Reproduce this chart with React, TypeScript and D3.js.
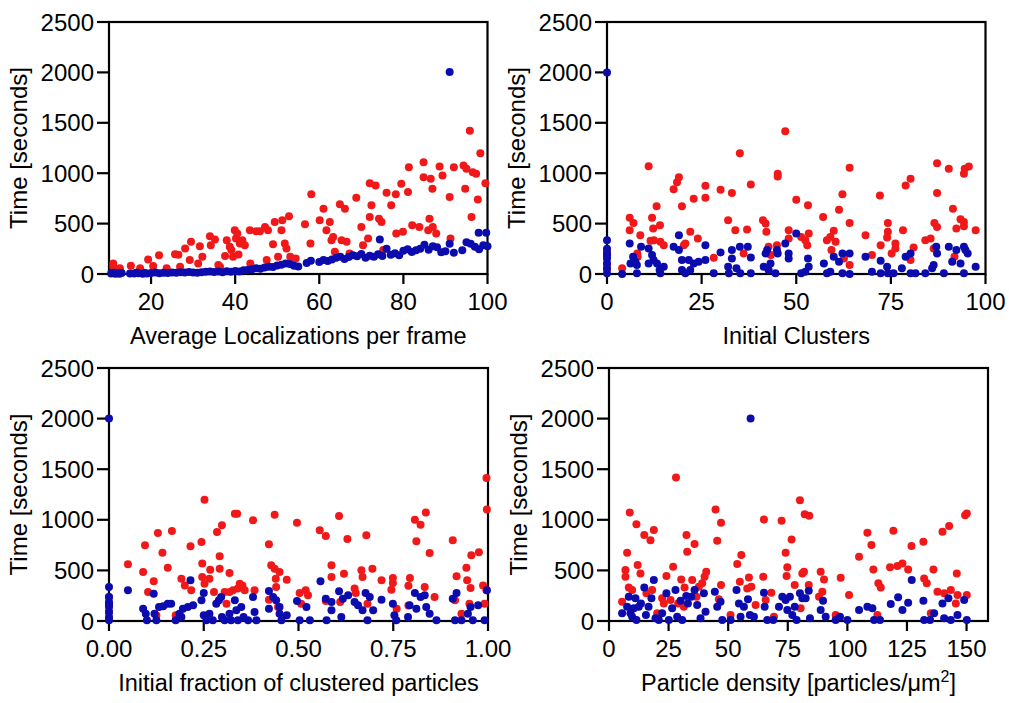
import React from "react";
import * as d3 from "d3";

type Pt = [number, number];

const Y_TICKS = [0, 500, 1000, 1500, 2000, 2500];
const LOC_TICKS = [20, 40, 60, 80, 100];
const CLU_TICKS = [0, 25, 50, 75, 100];
const FRAC_TICKS = [0, 0.25, 0.5, 0.75, 1];
const DENS_TICKS = [0, 25, 50, 75, 100, 125, 150];

const Y_TITLE = "Time [seconds]";
const LOC_TITLE = "Average Localizations per frame";
const CLU_TITLE = "Initial Clusters";
const FRAC_TITLE = "Initial fraction of clustered particles";

// Panel 1: Average localizations per frame
const locRed: Pt[] = [[11,105],[11,70],[12.6,56],[15.2,82],[17.4,56],[19.3,145],[20.5,80],[21.9,185],[23.7,56],[25.7,197],[26.5,190],[26.9,72],[28.1,253],[29.2,138],[29.5,320],[31.2,105],[31.6,276],[32.2,171],[34,375],[34.2,286],[35.2,342],[36,89],[36.4,72],[37.6,178],[38,336],[38.7,270],[39.1,237],[39.9,434],[40.2,352],[40.5,401],[41.1,303],[41.7,336],[42.3,286],[39.5,171],[40.8,194],[43.5,434],[43.6,105],[45,424],[45.9,424],[47.1,467],[47.5,138],[47.8,434],[49,296],[49.4,516],[50.2,171],[51,434],[51.2,533],[51.8,303],[52.2,253],[52.8,572],[53.1,171],[54.4,155],[56.6,493],[57.9,303],[58.1,790],[60.1,533],[61,648],[61.7,434],[62.5,516],[62.9,336],[63.3,368],[63.7,220],[64.9,691],[65.3,336],[66.1,648],[66.5,319],[67.2,204],[68.8,757],[70,467],[70.4,286],[71.6,352],[72,566],[72,901],[72.4,681],[73.4,878],[74.2,549],[74.8,516],[75.2,237],[76,806],[77.1,681],[78.2,790],[78.3,401],[79.5,895],[79.9,418],[81.1,813],[81.3,1059],[82.1,484],[83.8,467],[84.8,1109],[84.8,961],[85.9,434],[86.2,549],[86.5,944],[86.9,846],[87,467],[87.8,401],[88.6,1066],[89.3,977],[91,763],[91.2,352],[92,1059],[94.3,1076],[94.7,846],[95,1043],[95.8,1421],[96.2,566],[96.5,1010],[97.3,994],[97.7,740],[98.3,1198],[99.5,901]];
const locBlue: Pt[] = [[10.5,5],[11,12],[11.5,3],[12,8],[12.5,2],[13,10],[15,6],[16,4],[16.5,12],[17,8],[18,3],[18.5,10],[19,6],[20,9],[21,14],[22,7],[23,12],[24,10],[25,15],[26,12],[27,18],[28,14],[29,20],[30,16],[31,12],[32,18],[33,22],[34,26],[35,20],[36,24],[37,18],[38,28],[39,22],[40,30],[41,26],[42,36],[43,40],[44,46],[45,58],[46,52],[47,64],[48,72],[49,70],[50,85],[51,92],[52,105],[53,98],[54,82],[55,75],[57,110],[58,132],[60,118],[61,140],[62,128],[63,145],[64,160],[65,172],[66,150],[67,168],[68,185],[69,175],[70,198],[71,160],[72,182],[73,170],[74,195],[74.4,342],[75,178],[76,250],[77,190],[78,205],[79,185],[80,230],[81,245],[82,218],[83,235],[84,250],[85,290],[86,240],[87,275],[88,265],[89,215],[90,225],[91,300],[91,2003],[92,212],[94,235],[95,315],[96,300],[97,270],[97.9,408],[98,245],[99,285],[99.7,408],[100,275]];

// Panel 2: Initial clusters
const cluRed: Pt[] = [[0,237],[0,200],[0,100],[0,50],[4,56],[6,559],[6,434],[7,507],[8,204],[8.1,171],[8.8,385],[11,1069],[11.9,559],[12.2,451],[11.5,329],[12.4,336],[13.1,671],[14,484],[14.1,319],[15,286],[17.6,842],[18.5,911],[19,961],[19.8,671],[20.7,303],[20.3,286],[22,418],[22.9,747],[24,352],[26,875],[26,757],[28.2,161],[30,836],[32,533],[33,803],[33.9,434],[35.1,1198],[36.1,204],[37,441],[38,888],[41.2,533],[41.9,500],[42.1,418],[42.7,270],[43.3,188],[45.1,994],[45.1,967],[44.9,286],[47.1,1415],[48,434],[48,352],[50,737],[51.3,368],[52.4,336],[53.1,681],[53.3,401],[52.9,286],[57.1,566],[58.1,336],[59,368],[59.3,237],[59.9,428],[60.4,319],[61.3,638],[62.2,790],[62.6,155],[64.1,507],[64.1,89],[64.1,1053],[68.3,385],[70,188],[72.1,780],[72.3,286],[74.2,507],[74.2,418],[74,362],[75.2,204],[76.2,303],[76.2,253],[78.2,434],[78.9,878],[80.2,944],[80.2,138],[81,263],[84.1,336],[85.5,352],[86.3,253],[86.5,507],[87.2,1099],[87.2,803],[87.2,467],[90.3,1043],[91.4,648],[91.8,171],[92.3,451],[93.4,543],[94.3,516],[94.3,994],[94.5,1043],[95.6,1066],[97.4,434],[94.3,474]];
const cluBlue: Pt[] = [[0,2000],[0,336],[0,250],[0,204],[0,180],[0,155],[0,105],[0,56],[0,7],[4,0],[6,303],[6.2,105],[6.9,171],[7.5,122],[7.9,89],[7.9,7],[9,270],[11,253],[11,105],[11.9,188],[12.3,138],[13.2,105],[13.9,39],[15,72],[14.1,7],[17.6,270],[19,385],[19,237],[19.8,138],[19.8,39],[20.7,7],[21.6,138],[22,39],[22.9,105],[24.2,122],[26,286],[26,138],[28.2,7],[30,214],[32,72],[32.2,7],[33,237],[33,155],[34.2,56],[35.1,270],[35.2,7],[37.2,270],[38,164],[38,7],[41.4,72],[41.9,204],[42.3,237],[42.7,39],[43.2,105],[44.5,7],[45.1,204],[44.9,237],[47.1,303],[48,204],[48,155],[50,401],[51.3,7],[52.4,23],[53.1,155],[53.3,72],[57.3,105],[58.1,7],[59,23],[59.9,171],[61.3,122],[62.2,204],[62.2,7],[64.1,204],[64.1,0],[68.3,171],[70,23],[72.3,132],[72.3,7],[74,72],[74.2,7],[75.7,7],[77.9,56],[78.9,171],[80.2,204],[80.2,7],[81.5,7],[84.1,7],[85.9,56],[86.3,89],[87,270],[87.2,204],[89,7],[90.3,270],[91.2,122],[92.3,237],[93.4,105],[94.3,270],[94.3,7],[95.3,204],[97.4,72],[94.7,237]];

// Panel 3: Initial fraction of clustered particles
const fracRed: Pt[] = [[0,237],[0,171],[0,89],[0.05,560],[0.09,484],[0.095,748],[0.103,287],[0.118,392],[0.125,56],[0.129,870],[0.141,675],[0.155,527],[0.166,890],[0.176,56],[0.191,418],[0.2,352],[0.215,738],[0.217,303],[0.244,781],[0.246,567],[0.246,435],[0.252,1199],[0.252,369],[0.265,418],[0.267,507],[0.277,287],[0.285,880],[0.292,639],[0.292,517],[0.298,945],[0.305,287],[0.31,171],[0.318,474],[0.318,287],[0.327,303],[0.332,1061],[0.338,1061],[0.34,320],[0.345,369],[0.352,352],[0.358,303],[0.38,995],[0.384,303],[0.422,758],[0.422,211],[0.428,550],[0.437,1051],[0.437,517],[0.441,336],[0.44,418],[0.45,484],[0.446,138],[0.469,408],[0.496,972],[0.503,277],[0.507,171],[0.519,303],[0.525,254],[0.556,896],[0.572,840],[0.572,198],[0.587,550],[0.587,435],[0.607,1038],[0.61,188],[0.62,468],[0.629,810],[0.648,320],[0.651,277],[0.666,501],[0.669,435],[0.679,847],[0.682,171],[0.695,517],[0.719,402],[0.749,425],[0.749,376],[0.745,310],[0.759,122],[0.79,152],[0.794,425],[0.79,349],[0.807,1001],[0.811,788],[0.822,952],[0.836,1071],[0.833,336],[0.846,672],[0.859,237],[0.907,797],[0.917,441],[0.913,204],[0.93,72],[0.943,527],[0.945,402],[0.951,171],[0.954,326],[0.956,649],[0.976,679],[0.987,352],[0.991,171],[0.996,1414],[0.997,1101],[0.996,303]];
const fracBlue: Pt[] = [[0,2000],[0,336],[0,237],[0,188],[0,160],[0,138],[0,89],[0,39],[0,7],[0.05,303],[0.09,122],[0.097,72],[0.1,7],[0.118,270],[0.12,72],[0.125,7],[0.132,138],[0.143,145],[0.155,171],[0.164,171],[0.176,7],[0.186,72],[0.191,39],[0.195,122],[0.208,138],[0.215,402],[0.222,155],[0.244,204],[0.25,277],[0.25,56],[0.257,7],[0.265,72],[0.274,7],[0.283,171],[0.29,204],[0.296,237],[0.298,39],[0.305,7],[0.318,72],[0.322,7],[0.332,204],[0.336,105],[0.34,7],[0.349,138],[0.355,39],[0.367,7],[0.38,237],[0.384,89],[0.389,7],[0.422,297],[0.422,122],[0.433,237],[0.441,204],[0.45,138],[0.45,72],[0.455,7],[0.469,56],[0.496,198],[0.503,7],[0.521,138],[0.53,7],[0.558,392],[0.572,221],[0.587,188],[0.587,105],[0.574,7],[0.607,293],[0.613,39],[0.617,221],[0.631,254],[0.648,188],[0.657,155],[0.669,105],[0.677,277],[0.682,7],[0.688,237],[0.697,105],[0.719,211],[0.749,171],[0.753,56],[0.758,7],[0.789,39],[0.793,155],[0.807,277],[0.811,122],[0.822,237],[0.833,254],[0.837,138],[0.846,72],[0.864,7],[0.907,221],[0.917,277],[0.913,7],[0.93,7],[0.947,72],[0.954,138],[0.96,7],[0.974,155],[0.991,7],[0.997,303]];

// Panel 4: Particle density
const densRed: Pt[] = [[5.5,191],[6.9,503],[6.9,438],[7.6,675],[8.7,1073],[8.3,332],[9.7,306],[11.5,957],[12,553],[13.2,470],[14.8,849],[15.7,273],[17.4,799],[18.1,306],[18.8,898],[20.2,76],[22.3,224],[23,174],[24.1,444],[25.8,207],[26.9,536],[28.1,1418],[29,174],[30.3,411],[31.4,141],[31.7,332],[32.5,849],[32.8,684],[34.9,405],[35.9,760],[36.7,240],[37.7,339],[39.1,372],[40.1,438],[40.8,487],[44.7,1102],[45.4,793],[47,970],[47,355],[46.1,214],[51,59],[53.8,563],[54.9,388],[55.5,651],[58,322],[58.7,431],[59.7,339],[61.5,158],[64.7,438],[65,1003],[65.7,207],[68.1,280],[69.2,43],[72.4,990],[74.1,675],[74.8,530],[74.5,444],[76.6,806],[77.9,355],[80.1,1194],[81.1,470],[81.8,487],[82.1,1056],[84,1040],[80.4,125],[83.8,355],[88.8,487],[89.5,289],[90.2,411],[88.1,240],[95.1,59],[97.2,428],[100.7,257],[104.9,635],[108.4,872],[110.1,750],[110.9,510],[113,372],[114,332],[112.6,59],[117.9,530],[119.3,891],[121,543],[123.1,569],[125.5,510],[126.9,740],[131.9,783],[132.2,421],[133.3,372],[136.1,510],[135,76],[137.8,289],[139.9,882],[140.6,273],[142.7,938],[143.4,306],[145.5,174],[145.9,470],[146.2,257],[149.4,1046],[150.1,1063],[150.1,257]];
const densBlue: Pt[] = [[5.5,76],[7.6,141],[8.3,240],[9,76],[9.7,43],[10.4,125],[11.1,224],[11.5,10],[12.5,141],[13.4,174],[14.8,332],[15.5,59],[16.6,141],[17.8,224],[18.8,405],[19.5,26],[20.9,10],[22.3,76],[24.1,273],[25.1,10],[26.5,125],[27.9,306],[28.6,43],[30,201],[30.7,10],[32.4,247],[33.1,174],[34.5,240],[35.9,306],[37,158],[38.4,26],[39.8,273],[40.5,92],[44.4,289],[45.4,141],[46.8,191],[47.5,10],[51,10],[53.5,306],[54.5,174],[55.2,43],[56.6,141],[58.3,214],[59.1,59],[59.4,2000],[60.8,43],[65,280],[65.3,141],[66.4,10],[68.9,10],[71.3,141],[72.7,240],[74.1,207],[74.8,109],[75.9,240],[76.9,59],[77.9,141],[78.7,10],[80.1,273],[81.1,224],[82.5,224],[83.8,299],[84.3,26],[88.8,109],[89.8,201],[90.9,43],[95.1,10],[96.9,43],[100,10],[104.9,109],[108.4,141],[110.5,125],[111.2,10],[113.7,10],[118.2,168],[121.3,234],[123.1,109],[125.5,181],[127,405],[131.9,201],[132.2,10],[134.7,10],[136.4,76],[139.9,174],[140.6,26],[142.4,224],[143.4,10],[146.2,59],[149,207],[150.1,10]];

const RED = "#f01818";
const BLUE = "#0c0cae";
const FONT = "'Liberation Sans', Arial, sans-serif";

interface PanelProps {
  left: number;
  top: number;
  right: number;
  bottom: number;
  xDomain: [number, number];
  xTicks: number[];
  xFormat: (v: number) => string;
  xTitle: React.ReactNode;
  red: Pt[];
  blue: Pt[];
}

function Panel(p: PanelProps) {
  const x = d3.scaleLinear().domain(p.xDomain).range([p.left, p.right]);
  const y = d3.scaleLinear().domain([0, 2500]).range([p.bottom, p.top]);
  const midY = (p.top + p.bottom) / 2;
  const midX = (p.left + p.right) / 2;
  return (
    <g fontFamily={FONT} fill="#000">
      <rect x={p.left} y={p.top} width={p.right - p.left} height={p.bottom - p.top}
        fill="none" stroke="#000" strokeWidth={2.2} />
      {Y_TICKS.map((t) => (
        <g key={"y" + t}>
          <line x1={p.left - 12} x2={p.left} y1={y(t)} y2={y(t)} stroke="#000" strokeWidth={2.2} />
          <text x={p.left - 15} y={y(t)} dy="0.36em" textAnchor="end" fontSize={24}>{t}</text>
        </g>
      ))}
      {p.xTicks.map((t) => (
        <g key={"x" + t}>
          <line x1={x(t)} x2={x(t)} y1={p.bottom} y2={p.bottom + 10} stroke="#000" strokeWidth={2.2} />
          <text x={x(t)} y={p.bottom + 36} textAnchor="middle" fontSize={24}>{p.xFormat(t)}</text>
        </g>
      ))}
      <text x={midX} y={p.bottom + 70} textAnchor="middle" fontSize={23.5}>{p.xTitle}</text>
      <text transform={`translate(${p.left - 82},${midY}) rotate(-90)`} textAnchor="middle" fontSize={24}>{Y_TITLE}</text>
      {p.red.map((d, i) => (
        <circle key={"r" + i} cx={x(d[0])} cy={y(d[1])} r={4} fill={RED} />
      ))}
      {p.blue.map((d, i) => (
        <circle key={"b" + i} cx={x(d[0])} cy={y(d[1])} r={4} fill={BLUE} />
      ))}
    </g>
  );
}

export default function App() {
  const intFmt = (v: number) => String(v);
  const fracFmt = d3.format(".2f");
  return (
    <svg width={1009} height={703} style={{ position: "absolute", left: 0, top: 0, background: "#fff" }}>
      <rect x={0} y={0} width={1009} height={703} fill="#fff" />
      <Panel left={109} top={22} right={487.5} bottom={274} xDomain={[10, 100]} xTicks={LOC_TICKS}
        xFormat={intFmt} xTitle={LOC_TITLE} red={locRed} blue={locBlue} />
      <Panel left={607} top={22} right={985.5} bottom={274} xDomain={[0, 100]} xTicks={CLU_TICKS}
        xFormat={intFmt} xTitle={CLU_TITLE} red={cluRed} blue={cluBlue} />
      <Panel left={109} top={368} right={488} bottom={621} xDomain={[0, 1]} xTicks={FRAC_TICKS}
        xFormat={fracFmt} xTitle={FRAC_TITLE} red={fracRed} blue={fracBlue} />
      <Panel left={609} top={368} right={988} bottom={621} xDomain={[0, 159]} xTicks={DENS_TICKS}
        xFormat={intFmt}
        xTitle={<>Particle density [particles/μm<tspan dy={-9} fontSize={16}>2</tspan><tspan dy={9}>]</tspan></>}
        red={densRed} blue={densBlue} />
    </svg>
  );
}
